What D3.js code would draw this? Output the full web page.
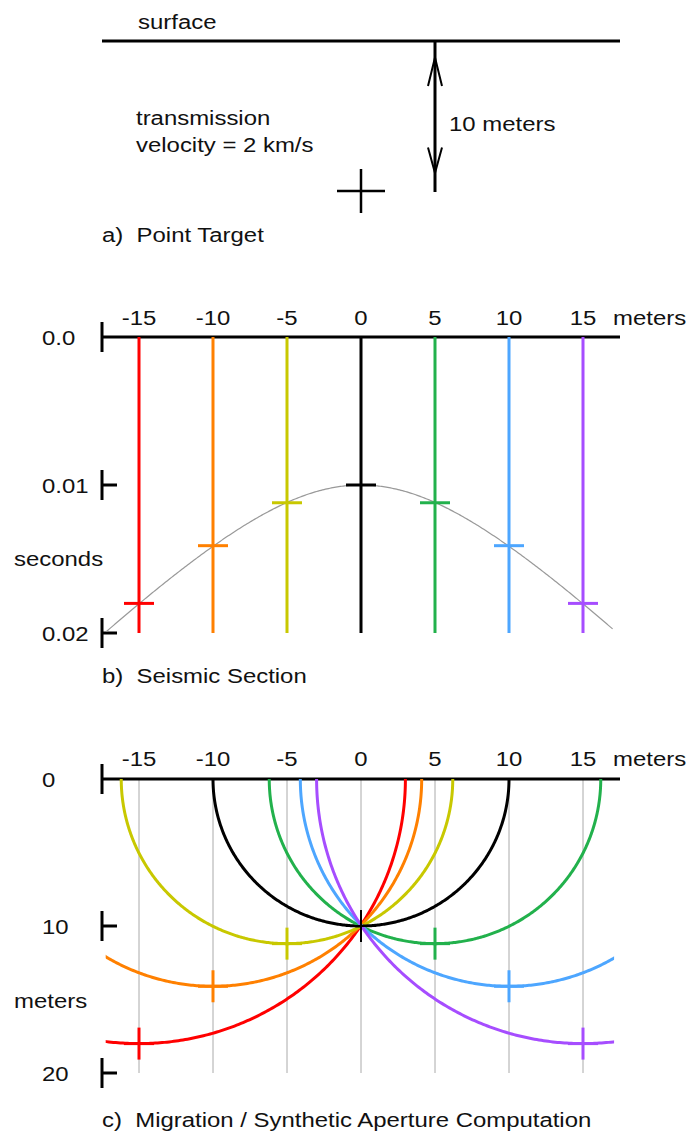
<!DOCTYPE html>
<html>
<head>
<meta charset="utf-8">
<script src="https://cdn.jsdelivr.net/npm/d3@7"></script>
<style>
  body { margin: 0; background: #fff; }
  text { font-family: "Liberation Sans", Arial, sans-serif; font-size: 21px; fill: #111; white-space: pre; }
</style>
</head>
<body>
<div id="chart"></div>
<script>
// receiver offsets along the surface (meters) and their tick labels
const offsets = [-15, -10, -5, 0, 5, 10, 15];
const offsetLabels = ["-15", "-10", "-5", "0", "5", "10", "15"];
// two-way arrival time picked on each trace (seconds)
const arrivalTimes = [0.0180, 0.0141, 0.0112, 0.0100, 0.0112, 0.0141, 0.0180];
const timeTicks = [0, 0.01, 0.02];
const timeLabels = ["0.0", "0.01", "0.02"];
const depthTicks = [0, 10, 20];
const depthLabels = ["0", "10", "20"];
const targetDepth = 10;   // meters
const velocity = 2000;    // m/s

const traceColors = ["#ff0000", "#ff8000", "#c8c800", "#000000", "#22b14c", "#4da6ff", "#a64dff"];
const SX = 1.14; // text is a bit wide in the original

const svg = d3.select("#chart").append("svg")
  .attr("width", 689)
  .attr("height", 1131);

const x = d3.scaleLinear().domain([-17.5, 17.5]).range([102, 620]);
const yA = d3.scaleLinear().domain([0, 10]).range([41, 191]);
const yT = d3.scaleLinear().domain([0, 0.02]).range([337, 633]);
const yD = d3.scaleLinear().domain([0, 20]).range([779, 1073]);

function txt(g, px, py, s, anchor) {
  g.append("text")
    .attr("transform", `translate(${px},${py}) scale(${SX},1)`)
    .attr("text-anchor", anchor || "start")
    .text(s);
}

function seg(g, x1, y1, x2, y2, color, w) {
  g.append("line")
    .attr("x1", x1).attr("y1", y1).attr("x2", x2).attr("y2", y2)
    .attr("stroke", color).attr("stroke-width", w);
}

// a) point target
const gA = svg.append("g").attr("class", "panel-a");
seg(gA, x.range()[0], yA(0), x.range()[1], yA(0), "#000", 3);
txt(gA, 138, 29, "surface");

const ax = x(5);
seg(gA, ax, yA(0), ax, yA(targetDepth) + 1, "#000", 3);
gA.append("path")
  .attr("d", `M${ax - 7},${yA(3)} L${ax},${yA(1.1)} L${ax + 7},${yA(3)}`)
  .attr("fill", "none").attr("stroke", "#000").attr("stroke-width", 2);
gA.append("path")
  .attr("d", `M${ax - 7},${yA(7.1)} L${ax},${yA(8.8)} L${ax + 7},${yA(7.1)}`)
  .attr("fill", "none").attr("stroke", "#000").attr("stroke-width", 2);
txt(gA, 449, 131, "10 meters");

txt(gA, 136, 125, "transmission");
txt(gA, 136, 152, "velocity = 2 km/s");

seg(gA, x(0) - 24, yA(targetDepth), x(0) + 24, yA(targetDepth), "#000", 2.5);
seg(gA, x(0), yA(targetDepth) - 22, x(0), yA(targetDepth) + 22, "#000", 2.5);
txt(gA, 102, 242, "a)  Point Target");

// b) seismic section
const gB = svg.append("g").attr("class", "panel-b");
seg(gB, x.range()[0], yT(0), x.range()[1], yT(0), "#000", 3);
timeTicks.forEach((t, i) => {
  seg(gB, 102, yT(t) - 15, 102, yT(t) + 15, "#000", 3);
  if (t > 0) seg(gB, 102, yT(t), 117, yT(t), "#000", 3);
  txt(gB, 42, yT(t) + 8, timeLabels[i]);
});
offsets.forEach((o, i) => txt(gB, x(o), yT(0) - 12, offsetLabels[i], "middle"));
txt(gB, 613, yT(0) - 12, "meters");
txt(gB, 14, 566, "seconds");

// diffraction hyperbola from the stated depth and velocity
const hx = d3.range(-17.2, 17.01, 0.1);
gB.append("path")
  .attr("d", d3.line()
    .x(d => x(d))
    .y(d => yT(2 * Math.sqrt(d * d + targetDepth * targetDepth) / velocity))(hx))
  .attr("fill", "none").attr("stroke", "#999").attr("stroke-width", 1.2);

gB.selectAll("line.trace")
  .data(offsets)
  .join("line")
  .attr("class", "trace")
  .attr("x1", d => x(d)).attr("x2", d => x(d))
  .attr("y1", yT(0)).attr("y2", yT(0.02))
  .attr("stroke", (d, i) => traceColors[i])
  .attr("stroke-width", 3);

gB.selectAll("line.pick")
  .data(offsets)
  .join("line")
  .attr("class", "pick")
  .attr("x1", d => x(d) - 15).attr("x2", d => x(d) + 15)
  .attr("y1", (d, i) => yT(arrivalTimes[i])).attr("y2", (d, i) => yT(arrivalTimes[i]))
  .attr("stroke", (d, i) => traceColors[i])
  .attr("stroke-width", 3);
txt(gB, 102, 683, "b)  Seismic Section");

// c) migration
const gC = svg.append("g").attr("class", "panel-c");
gC.selectAll("line.grid")
  .data(offsets)
  .join("line")
  .attr("class", "grid")
  .attr("x1", d => x(d)).attr("x2", d => x(d))
  .attr("y1", yD(0)).attr("y2", yD(20))
  .attr("stroke", "#aaa").attr("stroke-width", 1);

seg(gC, x.range()[0], yD(0), x.range()[1], yD(0), "#000", 3);
depthTicks.forEach((z, i) => {
  seg(gC, 102, yD(z) - 15, 102, yD(z) + 15, "#000", 3);
  if (z > 0) seg(gC, 102, yD(z), 117, yD(z), "#000", 3);
  txt(gC, 42, yD(z) + 8, depthLabels[i]);
});
offsets.forEach((o, i) => txt(gC, x(o), yD(0) - 13, offsetLabels[i], "middle"));
txt(gC, 613, yD(0) - 13, "meters");
txt(gC, 14, 1008, "meters");

svg.append("clipPath").attr("id", "clipC")
  .append("rect")
  .attr("x", x(-17.25)).attr("y", yD(0) - 3)
  .attr("width", x(17.1) - x(-17.25)).attr("height", yD(20) - yD(0) + 3);

const angles = d3.range(0, Math.PI + 0.0001, Math.PI / 360);
const arc = d3.line().x(d => x(d[0])).y(d => yD(d[1]));
const gCurves = gC.append("g").attr("clip-path", "url(#clipC)");
offsets.forEach((o, i) => {
  const r = velocity * arrivalTimes[i] / 2;
  gCurves.append("path")
    .attr("d", arc(angles.map(a => [o + r * Math.cos(a), r * Math.sin(a)])))
    .attr("fill", "none")
    .attr("stroke", traceColors[i])
    .attr("stroke-width", 3);
});
offsets.forEach((o, i) => {
  const r = velocity * arrivalTimes[i] / 2;
  const w = i === 3 ? 2 : 3;
  seg(gC, x(o), yD(r) - 16, x(o), yD(r) + 16, traceColors[i], w);
  seg(gC, x(o) - 15, yD(r), x(o) + 15, yD(r), traceColors[i], w);
});
txt(gC, 102, 1127, "c)  Migration / Synthetic Aperture Computation");
</script>
</body>
</html>
